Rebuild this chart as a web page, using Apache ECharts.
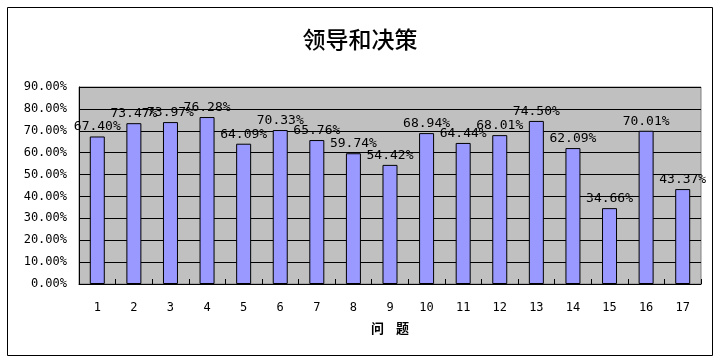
<!DOCTYPE html>
<html><head><meta charset="utf-8">
<script src="https://cdn.jsdelivr.net/npm/echarts@6/dist/echarts.min.js"></script>
<style>html,body{margin:0;padding:0;background:#fff}#c{width:720px;height:360px}</style>
</head><body><div id="c"></div>
<script>
const categories = ['1','2','3','4','5','6','7','8','9','10','11','12','13','14','15','16','17'];
const values = [67.40,73.47,73.97,76.28,64.09,70.33,65.76,59.74,54.42,68.94,64.44,68.01,74.50,62.09,34.66,70.01,43.37];
const titleText = '领导和决策';
const xName = '问    题';
const mono = '"DejaVu Sans Mono", monospace';
const chart = echarts.init(document.getElementById('c'));
chart.setOption({
  animation: false,
  backgroundColor: '#fff',
  title: { text: titleText, left: 'center', top: 23, textStyle: { fontFamily: '"Noto Sans CJK SC"', fontSize: 23, fontWeight: 500, color: '#000', letterSpacing: 2 } },
  graphic: [{ type: 'rect', shape: { x: 7.5, y: 7.5, width: 705, height: 348 }, style: { fill: 'none', stroke: '#000', lineWidth: 1 }, z: -1 }],
  grid: { left: 79, right: 19, top: 87, bottom: 76, show: true, backgroundColor: '#C0C0C0', borderColor: '#808080', borderWidth: 1 },
  xAxis: {
    type: 'category', data: categories,
    name: xName, nameLocation: 'middle', nameGap: 38,
    nameTextStyle: { fontFamily: '"Noto Sans CJK SC"', fontSize: 13, fontWeight: 'bold', color: '#000' },
    axisLine: { lineStyle: { color: '#000', width: 1 } },
    axisTick: { show: true, inside: true, length: 5, alignWithLabel: false, lineStyle: { color: '#000' } },
    axisLabel: { margin: 18, fontFamily: mono, fontSize: 12, color: '#000' }
  },
  yAxis: {
    type: 'value', min: 0, max: 90, interval: 10,
    axisLine: { show: true, lineStyle: { color: '#000' } },
    axisTick: { show: false },
    axisLabel: { margin: 12, fontFamily: mono, fontSize: 12, color: '#000', formatter: v => v.toFixed(2) + '%' },
    splitLine: { show: true, lineStyle: { color: '#000', width: 1 } }
  },
  series: [{
    type: 'bar', data: values, barWidth: '41%',
    itemStyle: { color: '#9999FF', borderColor: '#000', borderWidth: 1 },
    label: { show: true, position: 'top', distance: 3, fontFamily: mono, fontSize: 13, color: '#000', formatter: p => p.value.toFixed(2) + '%' }
  }]
});
</script></body></html>
